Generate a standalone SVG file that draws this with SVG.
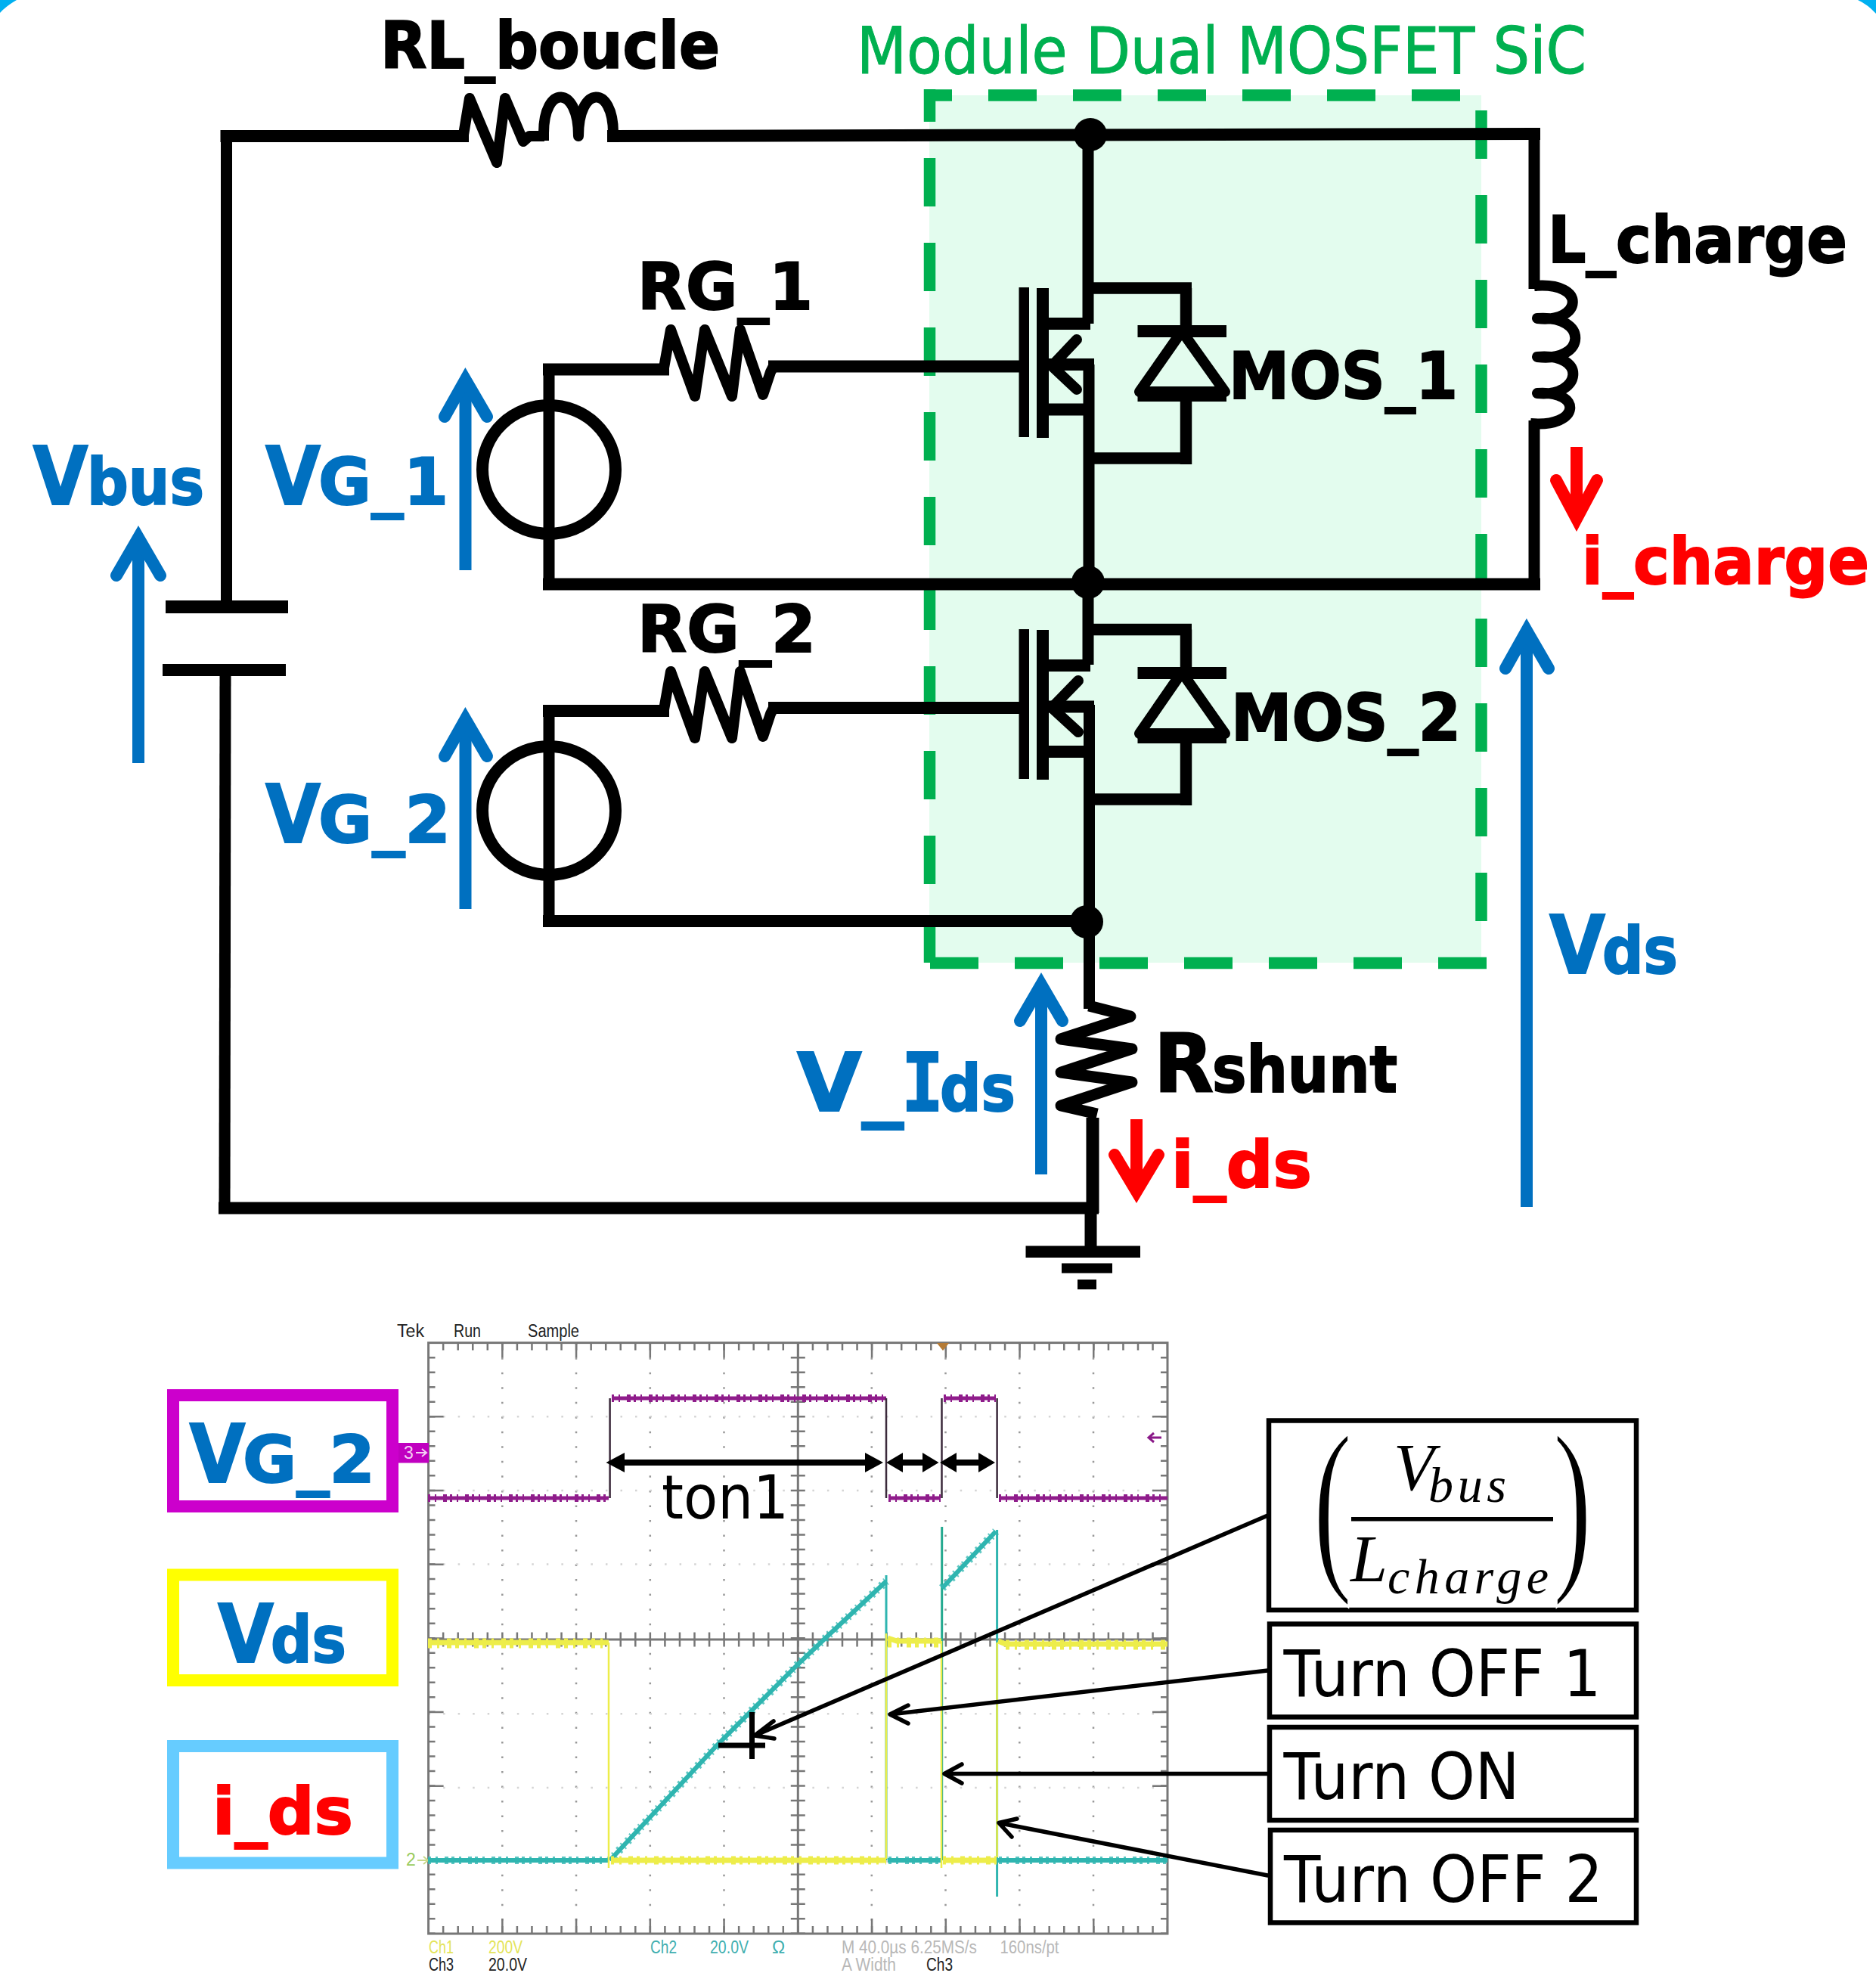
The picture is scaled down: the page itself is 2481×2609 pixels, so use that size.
<svg xmlns="http://www.w3.org/2000/svg" width="2481" height="2609" viewBox="0 0 2481 2609">
<style>
text{font-family:"DejaVu Sans","Liberation Sans",sans-serif}
.b{font-weight:bold}
.big{font-size:107px}
.mid{font-size:85px}
.blue{fill:#0070C0;stroke:#0070C0;stroke-width:2}
.red{fill:#FF0000;stroke:#FF0000;stroke-width:2}
.k{fill:#000;stroke:#000;stroke-width:2}
.w{fill:none;stroke:#000;stroke-width:16;stroke-linecap:square}
.v{fill:none;stroke:#000;stroke-width:15;stroke-linecap:butt}
.z{fill:none;stroke:#000;stroke-width:14;stroke-linejoin:round;stroke-linecap:butt}
.g{fill:none;stroke:#00B050;stroke-width:15.5;stroke-dasharray:64 48}
.ab{fill:none;stroke:#0070C0;stroke-width:16;stroke-linecap:round;stroke-linejoin:miter;stroke-miterlimit:6}
.ar{fill:none;stroke:#FF0000;stroke-width:16;stroke-linecap:round;stroke-linejoin:miter;stroke-miterlimit:6}
.sb{fill:none;stroke:#0070C0;stroke-width:16}
.sr{fill:none;stroke:#FF0000;stroke-width:16}
.t{fill:none;stroke:#777;}
.sc{font-family:"Liberation Sans",sans-serif;font-size:23px}
.box{fill:#fff;stroke:#000;stroke-width:6.5}
.lb{fill:#fff;stroke-width:16}
.c{fill:none;stroke:#000;stroke-width:5.5;stroke-linecap:round;stroke-linejoin:round}
.m{font-family:"Liberation Serif",serif;font-style:italic;fill:#000}
</style>
<rect width="2481" height="2609" fill="#fff"/>
<path d="M0,0H22Q8,8 0,17Z" fill="#00B0F0"/>
<path d="M2457,0H2481V18Q2470,6 2457,0Z" fill="#00B0F0"/>

<g id="module">
<rect x="1229" y="126" width="730" height="1147" fill="#E3FCEE"/>
<path class="g" d="M1222,126H1931" stroke-dashoffset="27"/>
<path class="g" d="M1959,146V1218"/>
<path class="g" d="M1966,1273.5H1229"/>
<path class="g" d="M1229.5,1273V118" stroke-dashoffset="8"/>
<text id="module-label" x="1133" y="97" font-size="85" fill="#00B050" stroke="#00B050" stroke-width="1" textLength="965" lengthAdjust="spacingAndGlyphs">Module Dual MOSFET SiC</text>
</g>

<g id="connectors">
<path class="w" d="M299.5,180H612"/>
<path class="w" d="M811,180L2029,177"/>
<path class="v" d="M299.5,173V800"/>
<path class="v" d="M298,885L297,1597"/>
<path class="w" d="M297,1597.5L1445,1597.5"/>
<path class="v" d="M2029,170V382"/>
<path class="v" d="M2029,556V778"/>
<path class="w" d="M726,772.5H2029"/>
<path class="v" d="M726,486V780"/>
<path class="w" d="M726,488.500H877"/>
<path class="w" d="M1024,484.500H1347"/>
<path class="v" d="M726,933V1226"/>
<path class="w" d="M726,940H877"/>
<path class="w" d="M1024,936H1347"/>
<path class="w" d="M726,1218H1437"/>
<path class="v" d="M1439,178V428"/>
<path class="v" d="M1440,482V780"/>
<path class="v" d="M1439,780V879"/>
<path class="v" d="M1440.500,932V1334"/>
<path class="v" d="M1445,1478V1604" stroke-width="17" style="stroke-width:17"/>
<path class="v" d="M1442.500,1604V1650" style="stroke-width:16"/>
</g>

<g id="RL_boucle">
<path class="z" d="M612,184L621,130L657,215L668,130L692,187L700,180H720"/>
<path class="z" d="M719,186V176C719,112 765,112 765,180C765,112 811,112 811,176V186"/>
<text class="b mid k" x="503" y="90" textLength="449" lengthAdjust="spacingAndGlyphs">RL_boucle</text>
</g>

<g id="L_charge">
<path class="z" d="M2029,378C2100,372 2092,428 2033,421C2102,416 2098,480 2033,472C2100,466 2092,526 2033,520C2094,516 2090,566 2024,560"/>
<text class="b mid k" x="2047" y="347" textLength="396" lengthAdjust="spacingAndGlyphs">L_charge</text>
</g>

<g id="RG_1">
<path class="z" d="M877,492L887,436L919,524L932,436L968,524L979,436L1009,522L1019,492L1024,482"/>
<text class="b mid k" x="843" y="409" textLength="232" lengthAdjust="spacingAndGlyphs">RG_1</text>
</g>
<g id="RG_2">
<path class="z" d="M877,944L887,888L919,976L932,888L968,976L979,888L1009,974L1019,944L1024,934"/>
<text class="b mid k" x="843" y="862" textLength="236" lengthAdjust="spacingAndGlyphs">RG_2</text>
</g>

<g id="VG_1_source"><ellipse cx="726" cy="621" rx="88" ry="85" fill="none" stroke="#000" stroke-width="16"/></g>
<g id="VG_2_source"><ellipse cx="726" cy="1072" rx="88" ry="85" fill="none" stroke="#000" stroke-width="16"/></g>

<g id="Cbus" fill="#000">
<rect x="219" y="794" width="162" height="17"/>
<rect x="215" y="878" width="163" height="16"/>
</g>

<g id="MOS_1">
<rect x="1347.500" y="380" width="13.500" height="198"/>
<rect x="1371" y="381" width="16" height="198"/>
<path class="v" d="M1385,428H1442M1385,482H1447M1385,541.500H1440" style="stroke-width:16"/>
<path d="M1424,449L1391,484L1424,515" fill="none" stroke="#000" stroke-width="14" stroke-linecap="round"/>
<path class="v" d="M1446,381H1576M1568.500,381V438M1568.500,523V614M1447,606H1576" style="stroke-width:15.5"/>
<rect x="1504.500" y="430" width="117.500" height="16"/>
<rect x="1504.500" y="515" width="117.500" height="16"/>
<path d="M1563,438L1507,518H1620Z" fill="none" stroke="#000" stroke-width="14" stroke-linejoin="round"/>
<text class="b mid k" x="1625" y="527" textLength="303" lengthAdjust="spacingAndGlyphs">MOS_1</text>
</g>
<g id="MOS_2">
<rect x="1347.500" y="832" width="13.500" height="198"/>
<rect x="1371" y="833" width="16" height="198"/>
<path class="v" d="M1385,880H1442M1385,934.500H1447M1385,994H1440" style="stroke-width:16"/>
<path d="M1426,900L1391,936L1426,968" fill="none" stroke="#000" stroke-width="14" stroke-linecap="round"/>
<path class="v" d="M1446,832.500H1576M1568.500,832.500V890M1568.500,975V1065M1447,1057H1576" style="stroke-width:15.5"/>
<rect x="1504.500" y="882" width="117.500" height="16"/>
<rect x="1504.500" y="967" width="117.500" height="16"/>
<path d="M1563,889L1507,970H1620Z" fill="none" stroke="#000" stroke-width="14" stroke-linejoin="round"/>
<text class="b mid k" x="1628" y="979" textLength="304" lengthAdjust="spacingAndGlyphs">MOS_2</text>
</g>

<g id="Rshunt">
<path class="z" style="stroke-width:15" d="M1440,1330L1495,1344L1403,1374L1497,1387L1403,1418L1497,1431L1403,1462L1451,1473"/>
<text class="b k" x="1526" y="1444"><tspan class="big" textLength="79" lengthAdjust="spacingAndGlyphs">R</tspan><tspan class="mid" x="1603" textLength="245" lengthAdjust="spacingAndGlyphs">shunt</tspan></text>
</g>

<g id="ground" fill="#000">
<rect x="1356.500" y="1647.500" width="151.500" height="15.500"/>
<rect x="1404" y="1670.500" width="67" height="13"/>
<rect x="1425" y="1692" width="25" height="13"/>
</g>

<g id="junctions" fill="#000">
<circle cx="1442" cy="178" r="22"/>
<circle cx="1439" cy="770" r="22"/>
<circle cx="1437" cy="1219" r="22"/>
</g>

<g id="Vbus">
<path class="sb" d="M183,711V1009"/><path class="ab" d="M154,761L183,711L212,761"/>
<text class="b blue" x="43.500" y="667"><tspan class="big" textLength="73" lengthAdjust="spacingAndGlyphs">V</tspan><tspan class="mid" x="115" textLength="155" lengthAdjust="spacingAndGlyphs">bus</tspan></text>
</g>
<g id="VG_1">
<path class="sb" d="M615.500,502V754"/><path class="ab" d="M588,551L615.500,502L644,551"/>
<text class="b blue" x="351" y="667"><tspan class="big" textLength="73" lengthAdjust="spacingAndGlyphs">V</tspan><tspan class="mid" x="421" textLength="172" lengthAdjust="spacingAndGlyphs">G_1</tspan></text>
</g>
<g id="VG_2">
<path class="sb" d="M615.500,951V1202"/><path class="ab" d="M588,1000L615.500,951L644,1000"/>
<text class="b blue" x="351" y="1114"><tspan class="big" textLength="73" lengthAdjust="spacingAndGlyphs">V</tspan><tspan class="mid" x="421" textLength="175" lengthAdjust="spacingAndGlyphs">G_2</tspan></text>
</g>
<g id="Vds">
<path class="sb" d="M2019,834V1596"/><path class="ab" d="M1991,884L2019,834L2048,884"/>
<text class="b blue" x="2049" y="1287"><tspan class="big" textLength="74" lengthAdjust="spacingAndGlyphs">V</tspan><tspan class="mid" x="2119" textLength="100" lengthAdjust="spacingAndGlyphs">ds</tspan></text>
</g>
<g id="V_Ids">
<path class="sb" d="M1377,1302V1553"/><path class="ab" d="M1349,1350L1377,1302L1405,1350"/>
<text class="b blue" x="1054" y="1469"><tspan class="big" textLength="141" lengthAdjust="spacingAndGlyphs">V_</tspan><tspan class="big" x="1192" style="font-family:'DejaVu Sans Mono'" textLength="56" lengthAdjust="spacingAndGlyphs">I</tspan><tspan class="mid" x="1243" textLength="100" lengthAdjust="spacingAndGlyphs">ds</tspan></text>
</g>
<g id="i_charge">
<path class="sr" d="M2085,591V686"/><path class="ar" d="M2058,635L2085,686L2112,635"/>
<text class="b mid red" x="2092" y="772" textLength="380" lengthAdjust="spacingAndGlyphs">i_charge</text>
</g>
<g id="i_ds">
<path class="sr" d="M1503,1480V1575"/><path class="ar" d="M1474,1527L1503,1575.500L1532,1527"/>
<text class="b mid red" x="1549" y="1570" textLength="186" lengthAdjust="spacingAndGlyphs">i_ds</text>
</g>

<g id="scope">
<path fill="none" stroke="#999" stroke-width="2.500" stroke-dasharray="2.500 17.030" d="M664.300,1775.600V2557M762,1775.600V2557M859.800,1775.600V2557M957.500,1775.600V2557M1152.800,1775.600V2557M1250.500,1775.600V2557M1348.300,1775.600V2557M1446,1775.600V2557"/>
<path fill="none" stroke="#d4d4d4" stroke-width="2.500" stroke-dasharray="2.500 17.030" d="M566.600,1873.300H1544M566.600,1970.900H1544M566.600,2068.600H1544M566.600,2266.200H1544M566.600,2363.900H1544M566.600,2461.500H1544"/>
<rect x="566.600" y="1775.600" width="977.400" height="781.400" fill="none" stroke="#777" stroke-width="3"/>
<path class="t" stroke-width="3" d="M1055.300,1775.600V2557M566.600,2168H1544"/>
<path class="t" stroke-width="9" stroke-dasharray="2.500 17.030" stroke-dashoffset="1.250" d="M571,1775.600V2557M1539.500,1775.600V2557"/>
<path class="t" stroke-width="20" stroke-dasharray="2.500 95.200" stroke-dashoffset="1.250" d="M576.600,1775.600V2557M1534,1775.600V2557"/>
<path class="t" stroke-width="10" stroke-dasharray="2.500 17.050" stroke-dashoffset="1.250" d="M566.600,1780.600H1544M566.600,2552H1544"/>
<path class="t" stroke-width="20" stroke-dasharray="2.500 95.240" stroke-dashoffset="1.250" d="M566.600,1785.600H1544M566.600,2547H1544"/>
<path class="t" stroke-width="19" stroke-dasharray="2.500 17.050" stroke-dashoffset="1.250" d="M566.600,2168H1544"/>
<path class="t" stroke-width="19" stroke-dasharray="2.500 17.030" stroke-dashoffset="1.250" d="M1055.300,1775.600V2557"/>
<text class="sc" fill="#222" x="525" y="1768" textLength="36" lengthAdjust="spacingAndGlyphs">Tek</text>
<text class="sc" fill="#222" x="600" y="1768" textLength="36" lengthAdjust="spacingAndGlyphs">Run</text>
<text class="sc" fill="#222" x="698" y="1768" textLength="68" lengthAdjust="spacingAndGlyphs">Sample</text>
<text class="sc" fill="#E4E45A" x="567" y="2583" textLength="33" lengthAdjust="spacingAndGlyphs">Ch1</text>
<text class="sc" fill="#E4E45A" x="646" y="2583" textLength="45" lengthAdjust="spacingAndGlyphs">200V</text>
<text class="sc" fill="#3FAFB0" x="860" y="2583" textLength="35" lengthAdjust="spacingAndGlyphs">Ch2</text>
<text class="sc" fill="#3FAFB0" x="939" y="2583" textLength="51" lengthAdjust="spacingAndGlyphs">20.0V</text>
<text class="sc" fill="#3FAFB0" x="1021" y="2583">Ω</text>
<text class="sc" fill="#B8B8B8" x="1113" y="2583" textLength="179" lengthAdjust="spacingAndGlyphs">M 40.0µs 6.25MS/s</text>
<text class="sc" fill="#B8B8B8" x="1322.500" y="2583" textLength="78" lengthAdjust="spacingAndGlyphs">160ns/pt</text>
<text class="sc" fill="#222" x="567" y="2606" textLength="33" lengthAdjust="spacingAndGlyphs">Ch3</text>
<text class="sc" fill="#222" x="646" y="2606" textLength="51" lengthAdjust="spacingAndGlyphs">20.0V</text>
<text class="sc" fill="#B8B8B8" x="1113" y="2606" textLength="72" lengthAdjust="spacingAndGlyphs">A  Width</text>
<text class="sc" fill="#222" x="1225" y="2606" textLength="35" lengthAdjust="spacingAndGlyphs">Ch3</text>
<path d="M1239,1776H1255L1247,1786Z" fill="#B47A35"/>
<rect x="527" y="1908" width="40" height="26.500" fill="#C000C0"/>
<text class="sc" fill="#F4D0F4" x="534" y="1929">3</text>
<path d="M550,1921H564M558,1916L564,1921L558,1926" fill="none" stroke="#F4D0F4" stroke-width="2"/>
<text class="sc" fill="#9ACB5E" x="537" y="2467">2</text>
<path d="M552,2460H566M560,2455L566,2460L560,2465" fill="none" stroke="#C9D88A" stroke-width="2"/>
<path d="M1536,1901H1520M1526,1895L1519,1901L1526,1907" fill="none" stroke="#8B1A89" stroke-width="3"/>
<g fill="none" stroke="#2FB5B0" stroke-linejoin="round">
<path stroke-width="6" d="M566,2460H806"/>
<path stroke-width="10" stroke-dasharray="4 6 3 9 5 4" opacity=".8" d="M566,2460H806M1175,2460H1244M1321,2460H1544"/>
<path stroke-width="6" d="M806.600,2460L949,2307L1054,2202L1096,2162L1172,2091"/>
<path stroke-width="11" stroke-dasharray="3 5 2 7" d="M806.600,2460L949,2307L1054,2202L1096,2162L1172,2091" opacity=".75"/>
<path stroke-width="3" d="M1172,2083V2460"/>
<path stroke-width="6" d="M1174,2460H1245"/>
<path stroke-width="3" stroke="#23A98F" d="M1245.700,2019V2460"/>
<path stroke-width="6" d="M1246,2100L1317,2025"/>
<path stroke-width="11" stroke-dasharray="3 5 2 7" d="M1246,2100L1317,2025" opacity=".75"/>
<path stroke-width="3" d="M1318.600,2023V2508"/>
<path stroke-width="6" d="M1320,2460H1544"/>
</g>
<g fill="none" stroke="#EDED4A">
<path stroke-width="7" d="M566,2172H805M1174,2166L1186,2170H1245M1320,2170L1330,2174H1544"/>
<path stroke-width="13" stroke-dasharray="5 7 3 10 6 5" d="M566,2173H805M1174,2172H1245M1330,2175H1544"/>
<path stroke-width="2.500" d="M805,2172V2470M1172,2160V2458M1245,2170V2470M1318.600,2172V2456"/>
<path stroke-width="7" d="M808,2460H1172M1247,2460H1318"/>
<path stroke-width="11" stroke-dasharray="4 7 3 9 6 5" d="M808,2460H1172M1247,2460H1318"/>
</g>
<g fill="none" stroke="#8F1C8B">
<path stroke-width="5" d="M566,1981H805M1175,1981H1244M1321,1981H1544M809,1849H1172M1248,1849H1317"/>
<path stroke-width="10" stroke-dasharray="3 6 2 9 5 4" d="M566,1981H805M1175,1981H1244M1321,1981H1544M809,1849H1172M1248,1849H1317"/>
<path stroke="#3B2A3B" stroke-width="2.500" d="M806.600,1981V1849M1172,1849V1981M1245.500,1981V1849M1318.600,1849V1981"/>
</g>
</g>

<g id="timing" fill="#000">
<path d="M801.500,1934L826,1921V1930H1144V1921L1168,1934L1144,1947V1938H826V1947Z"/>
<path d="M1172,1934L1194,1921V1930H1220V1921L1241.500,1934L1220,1947V1938H1194V1947Z"/>
<path d="M1243,1934L1265,1921V1930H1294V1921L1316,1934L1294,1947V1938H1265V1947Z"/>
<text x="875" y="2008" font-size="80" textLength="168" lengthAdjust="spacingAndGlyphs">ton1</text>
</g>

<g id="slope-marker">
<path d="M950,2308H1012M994.500,2264V2326" fill="none" stroke="#000" stroke-width="7"/>
</g>

<g id="callout-arrows">
<path class="c" d="M1676.500,2004L998,2295M1023,2276L998,2295L1024,2299"/>
<path class="c" d="M1676.500,2209L1177,2267M1201,2255L1177,2267L1201,2279"/>
<path class="c" d="M1676.500,2345.500H1249M1272,2333L1249,2345.500L1272,2358"/>
<path class="c" d="M1676.500,2480L1321,2410.500M1345,2405L1321,2410.500L1338,2429"/>
</g>

<g id="label-VG_2">
<rect class="lb" x="229" y="1845" width="290" height="147" stroke="#CC00CC"/>
<text class="b blue" x="250.500" y="1960"><tspan class="big" textLength="74" lengthAdjust="spacingAndGlyphs">V</tspan><tspan class="mid" x="321" textLength="175" lengthAdjust="spacingAndGlyphs">G_2</tspan></text>
</g>
<g id="label-Vds">
<rect class="lb" x="229" y="2082.500" width="290" height="139.500" stroke="#FFFF00"/>
<text class="b blue" x="288" y="2198"><tspan class="big" textLength="74" lengthAdjust="spacingAndGlyphs">V</tspan><tspan class="mid" x="358" textLength="100" lengthAdjust="spacingAndGlyphs">ds</tspan></text>
</g>
<g id="label-i_ds">
<rect class="lb" x="229" y="2309" width="290" height="154.500" stroke="#66CCFF"/>
<text class="b mid red" x="281" y="2425" textLength="186" lengthAdjust="spacingAndGlyphs">i_ds</text>
</g>

<g id="box-slope">
<rect class="box" x="1678" y="1878.500" width="486" height="250.500"/>
<text class="m" font-size="252" stroke="#fff" stroke-width="3.5" transform="translate(1736.600,2071) scale(.615,1)" style="font-style:normal">(</text>
<text class="m" font-size="252" stroke="#fff" stroke-width="3.5" transform="translate(2053.700,2071) scale(.615,1)" style="font-style:normal">)</text>
<text class="m" x="1843" y="1969.500" font-size="88">V</text>
<text class="m" x="1889" y="1986" font-size="66" textLength="103" lengthAdjust="spacing">bus</text>
<rect x="1787" y="2006" width="267" height="5.500"/>
<text class="m" x="1786" y="2091" font-size="88">L</text>
<text class="m" x="1835" y="2107" font-size="66" textLength="213" lengthAdjust="spacing">charge</text>
</g>
<g id="box-off1">
<rect class="box" x="1679" y="2147.500" width="485" height="123"/>
<text x="1697.500" y="2243" font-size="85" textLength="420" lengthAdjust="spacingAndGlyphs">Turn OFF 1</text>
</g>
<g id="box-on">
<rect class="box" x="1679" y="2284" width="485" height="123"/>
<text x="1697.500" y="2379" font-size="85" textLength="312" lengthAdjust="spacingAndGlyphs">Turn ON</text>
</g>
<g id="box-off2">
<rect class="box" x="1680" y="2420" width="484" height="122.500"/>
<text x="1698" y="2515" font-size="85" textLength="422" lengthAdjust="spacingAndGlyphs">Turn OFF 2</text>
</g>
</svg>
